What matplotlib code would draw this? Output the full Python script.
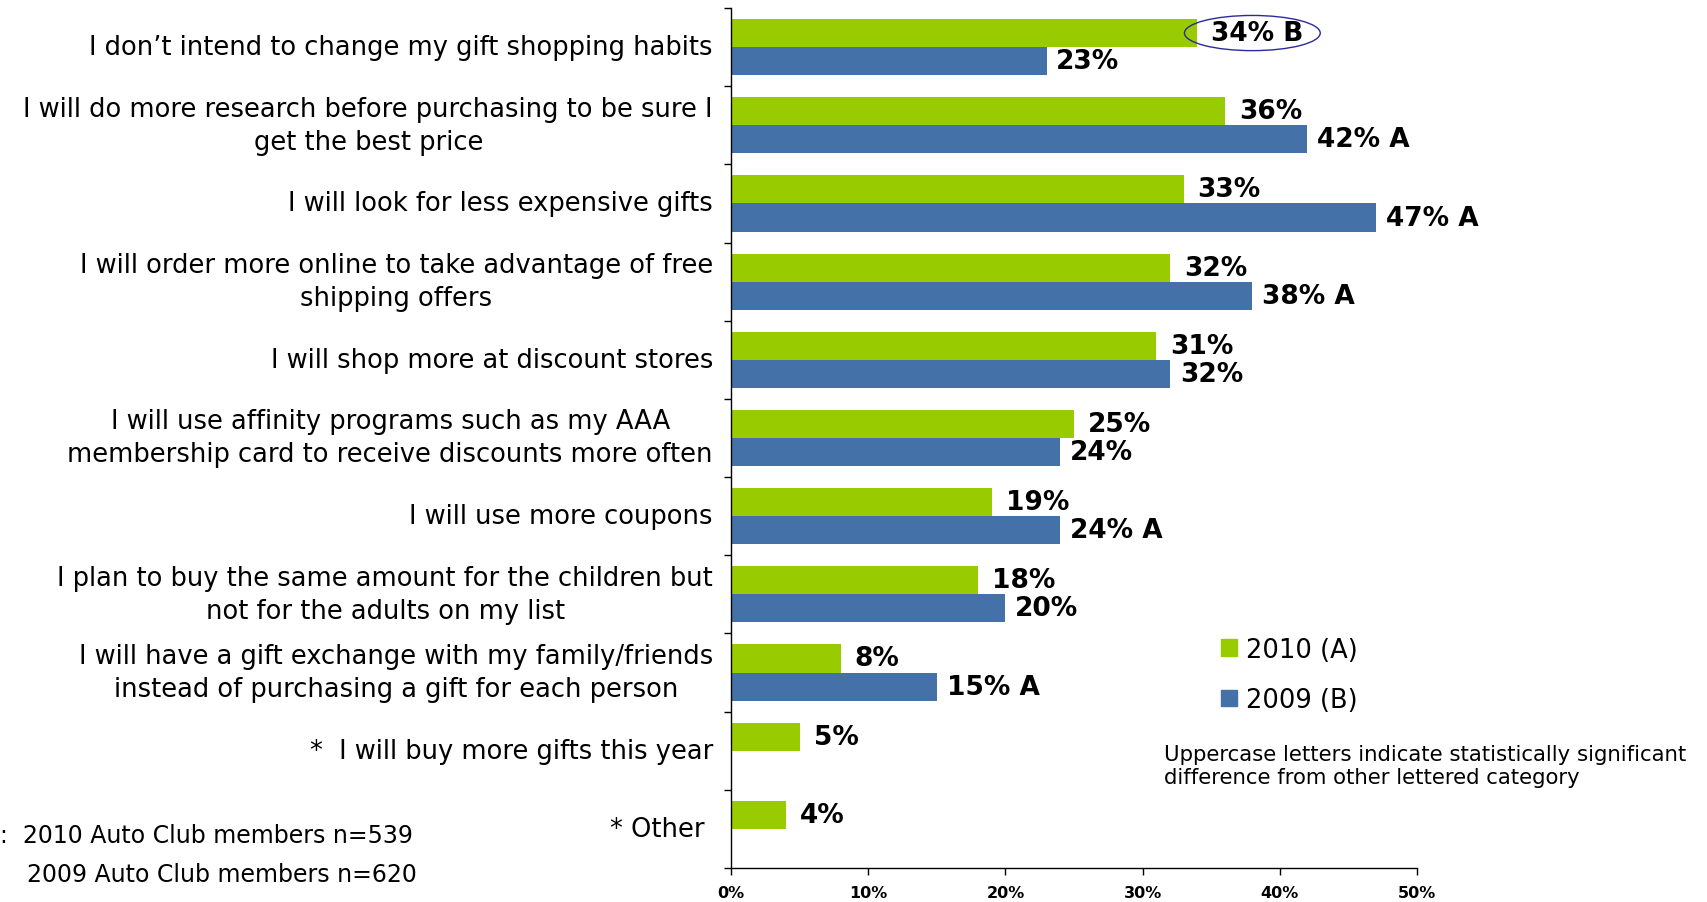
import matplotlib
matplotlib.use('Agg')
import matplotlib.pyplot as plt
import matplotlib.patches as mpatches
import numpy as np

# data
categories = [
    "I don\u2019t intend to change my gift shopping habits",
    "I will do more research before purchasing to be sure I\nget the best price",
    "I will look for less expensive gifts",
    "I will order more online to take advantage of free\nshipping offers",
    "I will shop more at discount stores",
    "I will use affinity programs such as my AAA\nmembership card to receive discounts more often",
    "I will use more coupons",
    "I plan to buy the same amount for the children but\nnot for the adults on my list",
    "I will have a gift exchange with my family/friends\ninstead of purchasing a gift for each person",
    "*  I will buy more gifts this year",
    "* Other ",
]
vals_2010 = [34, 36, 33, 32, 31, 25, 19, 18, 8, 5, 4]
vals_2009 = [23, 42, 47, 38, 32, 24, 24, 20, 15]
sig_2010 = ["B", "", "", "", "", "", "", "", "", "", ""]
sig_2009 = ["", "A", "A", "A", "", "", "A", "", "A"]
xticks = [0, 10, 20, 30, 40, 50]

green = '#99CC00'
blue = '#4472A8'

fig = plt.figure(figsize=(17.08, 9.03), dpi=100)
ax = fig.add_axes([0.428, 0.0377, 0.4016, 0.9523])

n = len(categories)
bh = 0.36
y10 = np.arange(n) + 0.32
y09 = np.arange(len(vals_2009)) + 0.68

ax.barh(y10, vals_2010, height=bh, color=green, zorder=2)
ax.barh(y09, vals_2009, height=bh, color=blue, zorder=2)

for y, v, s in zip(y10, vals_2010, sig_2010):
    txt = f"{v}%" + (f" {s}" if s else "")
    ax.annotate(txt, (v, y), xytext=(10, 0), textcoords='offset points',
                va='center', ha='left', fontsize=19, fontweight='bold')
for y, v, s in zip(y09, vals_2009, sig_2009):
    txt = f"{v}%" + (f" {s}" if s else "")
    ax.annotate(txt, (v, y), xytext=(7, 0), textcoords='offset points',
                va='center', ha='left', fontsize=19, fontweight='bold')

# circle around the significant 2010 value
ax.add_patch(mpatches.Ellipse((38.0, 0.32), 9.9, 0.45, fill=False,
                              edgecolor='#2A2A9C', lw=1.0, clip_on=False, zorder=3))

ax.set_xlim(0, 50)
ax.set_ylim(n, 0)
ax.set_xticks(xticks)
ax.set_xticklabels([f"{t}%" for t in xticks], fontsize=11.5, fontweight='bold')
ax.tick_params(axis='x', length=5, width=1, pad=7)

ax.set_yticks(np.arange(n + 1))
ax.set_yticklabels([])
ax.set_yticks(np.arange(n) + 0.5, minor=True)
ax.set_yticklabels(categories, minor=True, fontsize=18.5, ha='right', va='center',
                   multialignment='center', linespacing=1.35)
ax.tick_params(axis='y', which='major', length=5, width=1)
ax.tick_params(axis='y', which='minor', length=0, pad=13)

for sp in ['top', 'right']:
    ax.spines[sp].set_visible(False)
for sp in ['left', 'bottom']:
    ax.spines[sp].set_linewidth(1)

handles = [mpatches.Patch(color=green, label='2010 (A)'),
           mpatches.Patch(color=blue, label='2009 (B)')]
fig.legend(handles=handles, loc='upper left', bbox_to_anchor=(0.7015, 0.3195),
           frameon=False, fontsize=18.5, handlelength=0.6, handleheight=0.6,
           handletextpad=0.35, labelspacing=0.95)

fig.text(0.6815, 0.151, "Uppercase letters indicate statistically significant\n"
         "difference from other lettered category", fontsize=15.3,
         va='center', ha='left', linespacing=1.2)

fig.text(0.0, 0.074, ":  2010 Auto Club members n=539", fontsize=17, va='center', ha='left')
fig.text(0.016, 0.031, "2009 Auto Club members n=620", fontsize=17, va='center', ha='left')

fig.savefig('out.png', dpi=100)
